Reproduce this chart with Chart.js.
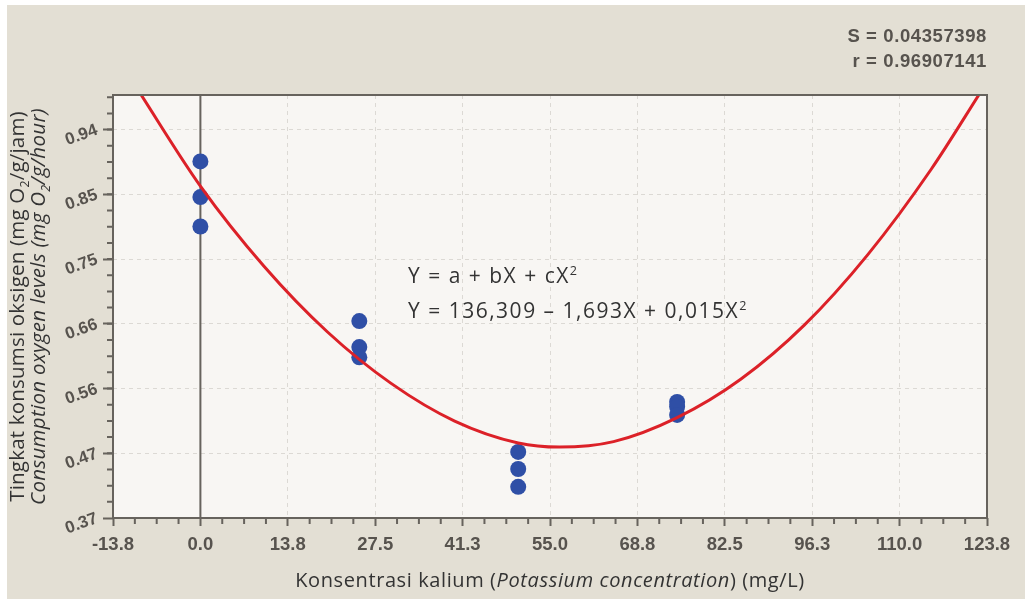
<!DOCTYPE html>
<html>
<head>
<meta charset="utf-8">
<script src="https://cdn.jsdelivr.net/npm/chart.js@4/dist/chart.umd.min.js"></script>
<style>
html,body{margin:0;padding:0;background:#ffffff;}
#wrap{position:relative;width:1025px;height:599px;}
canvas{display:block;}
</style>
</head>
<body>
<div id="wrap"><canvas id="c" width="1025" height="599"></canvas></div>
<script>
// ---- data ----
const obsX = [0, 0, 0, 25, 25, 25, 50, 50, 50, 75, 75, 75];
const obsY = [0.893, 0.841, 0.798, 0.660, 0.622, 0.607, 0.469, 0.444, 0.418, 0.542, 0.535, 0.523];

const curveX = [-10, 0, 10, 20, 30, 40, 50, 56.5, 65, 75, 85, 95, 105, 115, 123];
const curveY = [1.000, 0.857, 0.740, 0.644, 0.569, 0.514, 0.482, 0.476, 0.484, 0.519, 0.575, 0.654, 0.757, 0.882, 0.998];

const xTickValues = [-13.75, 0, 13.75, 27.5, 41.25, 55, 68.75, 82.5, 96.25, 110, 123.75];
const xTickLabels = ['-13.8', '0.0', '13.8', '27.5', '41.3', '55.0', '68.8', '82.5', '96.3', '110.0', '123.8'];
const yTickValues = [0.3725, 0.467, 0.5615, 0.656, 0.7505, 0.845, 0.9395];
const yTickLabels = ['0.37', '0.47', '0.56', '0.66', '0.75', '0.85', '0.94'];
const xRange = [-13.75, 123.75];
const yRange = [0.3725, 0.99];

const statLines = ['S = 0.04357398', 'r = 0.96907141'];
const eqLine1 = [['Y = a + bX + cX', 0], ['2', 1]];
const eqLine2 = [['Y = 136,309 \u2013 1,693X + 0,015X', 0], ['2', 1]];
const yTitle1 = [['Tingkat konsumsi oksigen (mg O', 0], ['2', -1], ['/g/jam)', 0]];
const yTitle2 = [['Consumption oxygen levels (mg O', 0], ['2', -1], ['/g/hour)', 0]];
const xTitle = [['Konsentrasi kalium (', 'n'], ['Potassium concentration', 'i'], [') (mg/L)', 'n']];

// ---- style ----
const BEIGE = '#e3dfd4';
const PLOT_BG = '#f8f6f3';
const FRAME = '#67635d';
const TICKTXT = '#57534e';

function segFont(m, size, family, italicAll) {
  let fs = size, st = italicAll ? 'italic ' : '';
  if (m === 1 || m === -1) fs = size * 0.6;
  if (m === 'i') st = 'italic ';
  return st + fs + 'px ' + family;
}
function drawSegs(ctx, segs, x, y, size, family, italicAll, color, spacing) {
  ctx.fillStyle = color;
  ctx.textBaseline = 'alphabetic';
  ctx.textAlign = 'left';
  ctx.letterSpacing = (spacing || 0) + 'px';
  let cx = x;
  for (const [t, m] of segs) {
    let dy = 0;
    if (m === 1) dy = -size * 0.4;
    if (m === -1) dy = size * 0.22;
    ctx.font = segFont(m, size, family, italicAll);
    ctx.fillText(t, cx, y + dy);
    cx += ctx.measureText(t).width;
  }
  ctx.letterSpacing = '0px';
  return cx - x;
}
function segWidth(ctx, segs, size, family, italicAll, spacing) {
  ctx.letterSpacing = (spacing || 0) + 'px';
  let w = 0;
  for (const [t, m] of segs) {
    ctx.font = segFont(m, size, family, italicAll);
    w += ctx.measureText(t).width;
  }
  ctx.letterSpacing = '0px';
  return w;
}

const decor = {
  id: 'decor',
  beforeDraw(chart) {
    const ctx = chart.ctx, a = chart.chartArea;
    ctx.save();
    ctx.fillStyle = '#ffffff';
    ctx.fillRect(0, 0, chart.width, chart.height);
    ctx.fillStyle = BEIGE;
    ctx.fillRect(7, 5, chart.width - 7, chart.height - 5);
    ctx.fillStyle = PLOT_BG;
    ctx.fillRect(a.left, a.top, a.right - a.left, a.bottom - a.top);
    ctx.restore();
  },
  beforeDatasetsDraw(chart) {
    const ctx = chart.ctx, a = chart.chartArea, xs = chart.scales.x;
    const x0 = xs.getPixelForValue(0);
    ctx.save();
    ctx.strokeStyle = FRAME;
    ctx.lineWidth = 2;
    ctx.beginPath();
    ctx.moveTo(x0, a.top);
    ctx.lineTo(x0, a.bottom);
    ctx.stroke();
    ctx.restore();
  },
  afterDraw(chart) {
    const ctx = chart.ctx, a = chart.chartArea, xs = chart.scales.x, ys = chart.scales.y;
    ctx.save();
    // frame
    ctx.strokeStyle = FRAME;
    ctx.lineWidth = 2;
    ctx.strokeRect(a.left, a.top, a.right - a.left, a.bottom - a.top);
    // minor ticks
    ctx.beginPath();
    for (let i = 0; i < xTickValues.length - 1; i++) {
      const v0 = xTickValues[i], v1 = xTickValues[i + 1];
      for (let k = 1; k < 4; k++) {
        const px = xs.getPixelForValue(v0 + (v1 - v0) * k / 4);
        ctx.moveTo(px, a.bottom);
        ctx.lineTo(px, a.bottom + 6);
      }
    }
    const ystep = yTickValues[1] - yTickValues[0];
    for (let v = yTickValues[0] + ystep / 4; v < yRange[1]; v += ystep / 4) {
      const py = ys.getPixelForValue(v);
      ctx.moveTo(a.left, py);
      ctx.lineTo(a.left - 6, py);
    }
    ctx.stroke();

    // stats
    ctx.fillStyle = TICKTXT;
    ctx.font = 'bold 18.5px "Liberation Sans", Arial, sans-serif';
    ctx.letterSpacing = '0.6px';
    ctx.textAlign = 'right';
    ctx.textBaseline = 'middle';
    ctx.fillText(statLines[0], a.right, 37);
    ctx.fillText(statLines[1], a.right, 62);
    ctx.letterSpacing = '0px';

    // equations
    const eqFam = '"Open Sans", sans-serif';
    drawSegs(ctx, eqLine1, 408, 283, 21, eqFam, false, '#333333', 1.5);
    drawSegs(ctx, eqLine2, 408, 318, 21, eqFam, false, '#333333', 1.5);

    // x title
    const tFam = '"Open Sans", sans-serif';
    const wx = segWidth(ctx, xTitle, 20, tFam, false, 0.6);
    drawSegs(ctx, xTitle, 550 - wx / 2, 587, 20, tFam, false, '#333333', 0.6);

    // y titles
    const cy = (a.top + a.bottom) / 2;
    ctx.save();
    ctx.translate(24, cy);
    ctx.rotate(-Math.PI / 2);
    const w1 = segWidth(ctx, yTitle1, 20.5, tFam, false, 0.2);
    drawSegs(ctx, yTitle1, -w1 / 2, 0, 20.5, tFam, false, '#333333', 0.2);
    ctx.restore();
    ctx.save();
    ctx.translate(45, cy);
    ctx.rotate(-Math.PI / 2);
    const w2 = segWidth(ctx, yTitle2, 20.5, tFam, true, 0.3);
    drawSegs(ctx, yTitle2, -w2 / 2, 0, 20.5, tFam, true, '#333333', 0.3);
    ctx.restore();

    ctx.restore();
  }
};

new Chart(document.getElementById('c'), {
  type: 'scatter',
  data: {
    datasets: [
      {
        type: 'line',
        label: 'fit',
        data: curveX.map((x, i) => ({x: x, y: curveY[i]})),
        borderColor: '#dc2128',
        borderWidth: 3,
        pointRadius: 0,
        fill: false,
        cubicInterpolationMode: 'monotone',
        clip: 0
      },
      {
        label: 'obs',
        data: obsX.map((x, i) => ({x: x, y: obsY[i]})),
        backgroundColor: '#2f4fa6',
        borderWidth: 0,
        pointRadius: 8,
        pointHoverRadius: 8
      }
    ]
  },
  options: {
    responsive: false,
    animation: false,
    events: [],
    layout: {padding: {left: 55, right: 38, top: 95, bottom: 0}},
    plugins: {legend: {display: false}, tooltip: {enabled: false}, title: {display: false}},
    scales: {
      x: {
        type: 'linear',
        min: xRange[0], max: xRange[1],
        afterBuildTicks: s => { s.ticks = xTickValues.map(v => ({value: v})); },
        afterFit: s => { s.height = 81; },
        ticks: {
          callback: (v, i) => xTickLabels[i],
          color: TICKTXT,
          font: {family: '"Liberation Sans", Arial, sans-serif', size: 18.5, weight: 'bold'},
          padding: 8, maxRotation: 0, minRotation: 0, autoSkip: false
        },
        grid: {
          color: '#dcd9d4', lineWidth: 1,
          drawTicks: true, tickLength: 8, tickColor: FRAME, tickWidth: 2
        },
        border: {display: false, dash: [4, 4]}
      },
      y: {
        type: 'linear',
        min: yRange[0], max: yRange[1],
        afterBuildTicks: s => { s.ticks = yTickValues.map(v => ({value: v})); },
        afterFit: s => { s.width = 58; },
        ticks: {
          callback: (v, i) => yTickLabels[i],
          color: TICKTXT,
          font: {family: '"Liberation Sans", Arial, sans-serif', size: 17, weight: 'bold'},
          padding: 6, minRotation: 20, maxRotation: 20, autoSkip: false
        },
        grid: {
          color: '#dcd9d4', lineWidth: 1,
          drawTicks: true, tickLength: 10, tickColor: FRAME, tickWidth: 2
        },
        border: {display: false, dash: [4, 4]}
      }
    }
  },
  plugins: [decor]
});
</script>
</body>
</html>
